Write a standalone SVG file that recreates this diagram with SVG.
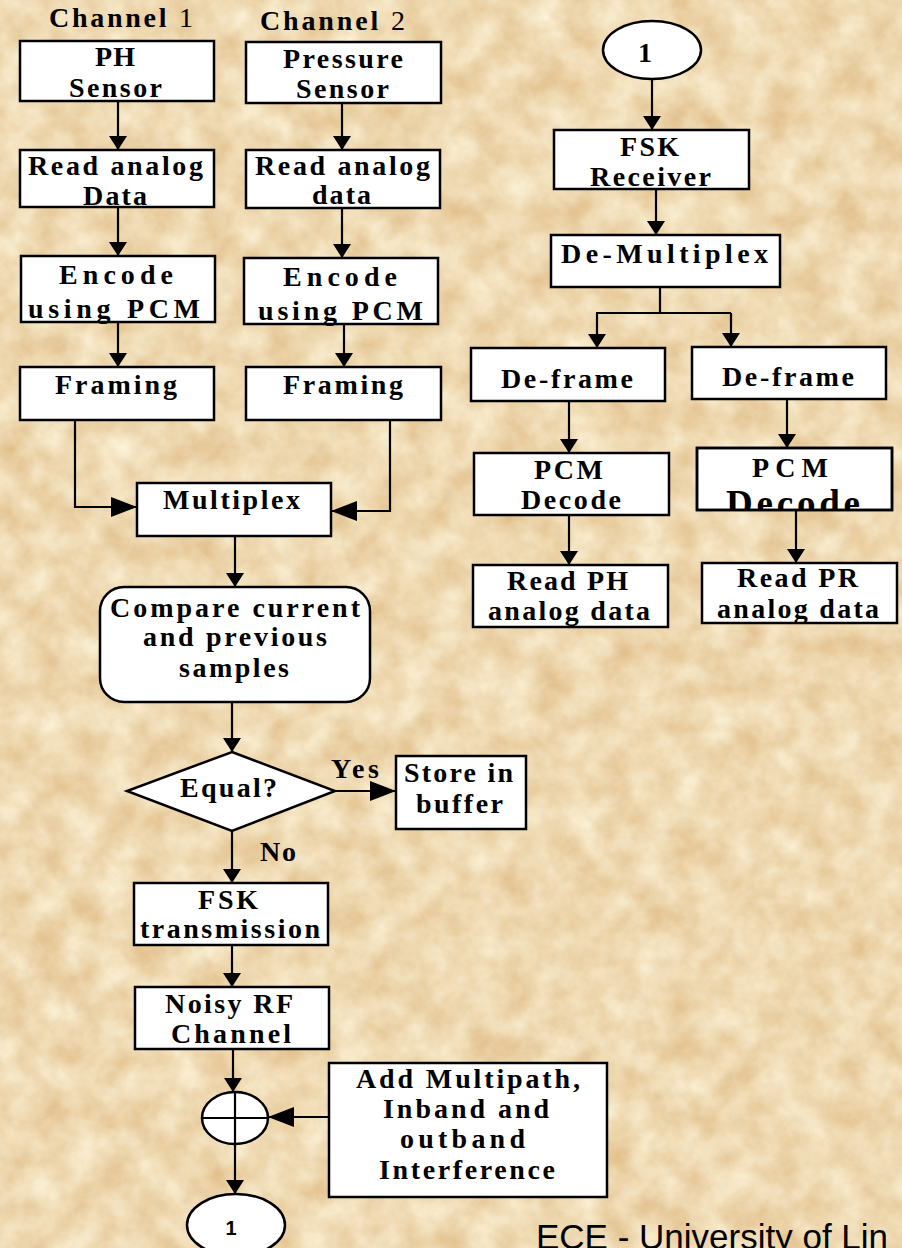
<svg xmlns="http://www.w3.org/2000/svg" width="902" height="1248" viewBox="0 0 902 1248">
<style>
.box{fill:#fff;stroke:#000;stroke-width:2.5}
.ln{fill:none;stroke:#000;stroke-width:2.2}
.t{font-family:"Liberation Serif","Times New Roman",serif;font-weight:bold;font-size:28px;fill:#000}
.n{font-weight:normal}
.big{font-size:37px}
.s{font-family:"Liberation Sans",Arial,sans-serif;fill:#000}
</style>
<defs>
<filter id="parch" x="0" y="0" width="100%" height="100%" color-interpolation-filters="sRGB">
<feTurbulence type="fractalNoise" baseFrequency="0.03" numOctaves="6" seed="7" result="n"/>
<feColorMatrix in="n" type="matrix" values="0.12 0 0 0 0.875  0.24 0 0 0 0.73  0.36 0 0 0 0.515  0 0 0 0 1"/>
</filter>
<marker id="a" viewBox="0 0 14 18" refX="14" refY="9" markerWidth="14" markerHeight="18" markerUnits="userSpaceOnUse" orient="auto"><path d="M0,0L14,9L0,18z" fill="#000"/></marker>
<marker id="aL" viewBox="0 0 26 20" refX="26" refY="10" markerWidth="26" markerHeight="20" markerUnits="userSpaceOnUse" orient="auto"><path d="M0,0L26,10L0,20z" fill="#000"/></marker>
<clipPath id="cp"><rect x="697" y="448" width="195" height="62"/></clipPath>
</defs>
<rect x="0" y="0" width="902" height="1248" fill="#ead6ad" filter="url(#parch)"/>

<g id="connectors">
<path class="ln" marker-end="url(#a)" d="M118,101V150"/>
<path class="ln" marker-end="url(#a)" d="M118,207V256"/>
<path class="ln" marker-end="url(#a)" d="M118,322V367"/>
<path class="ln" marker-end="url(#a)" d="M342,103V150"/>
<path class="ln" marker-end="url(#a)" d="M342,208V258"/>
<path class="ln" marker-end="url(#a)" d="M344,324V367"/>
<path class="ln" marker-end="url(#aL)" d="M75,420V507H137"/>
<path class="ln" marker-end="url(#aL)" d="M390,420V511H331"/>
<path class="ln" marker-end="url(#a)" d="M235,536V587"/>
<path class="ln" marker-end="url(#a)" d="M232,702V752"/>
<path class="ln" marker-end="url(#aL)" d="M335,791H396"/>
<path class="ln" marker-end="url(#a)" d="M232,831V883"/>
<path class="ln" marker-end="url(#a)" d="M232,945V987"/>
<path class="ln" marker-end="url(#a)" d="M233,1049V1092"/>
<path class="ln" marker-end="url(#aL)" d="M329,1117H268"/>
<path class="ln" marker-end="url(#a)" d="M235,1144V1194"/>
<path class="ln" marker-end="url(#a)" d="M652,79V130"/>
<path class="ln" marker-end="url(#a)" d="M656,189V235"/>
<path class="ln" d="M660,287V313M596,313H731"/>
<path class="ln" marker-end="url(#a)" d="M597,313V348"/>
<path class="ln" marker-end="url(#a)" d="M731,313V347"/>
<path class="ln" marker-end="url(#a)" d="M569,401V453"/>
<path class="ln" marker-end="url(#a)" d="M787,399V448"/>
<path class="ln" marker-end="url(#a)" d="M569,515V565"/>
<path class="ln" marker-end="url(#a)" d="M796,510V563"/>
</g>

<g id="labels">
<text class="t" x="49" y="27" textLength="144" lengthAdjust="spacing">Channel <tspan class="n">1</tspan></text>
<text class="t" x="260" y="30" textLength="145" lengthAdjust="spacing">Channel <tspan class="n">2</tspan></text>
<text class="t" x="331" y="778" textLength="48" lengthAdjust="spacing">Yes</text>
<text class="t" x="260" y="861" textLength="36" lengthAdjust="spacing">No</text>
<text class="s" x="536" y="1249" font-size="35">ECE - University of Lin</text>
</g>

<g id="ph-sensor"><rect class="box" x="20" y="41" width="194" height="60"/>
<text class="t" x="95" y="66" textLength="40" lengthAdjust="spacing">PH</text>
<text class="t" x="69" y="97" textLength="93" lengthAdjust="spacing">Sensor</text></g>

<g id="pressure-sensor"><rect class="box" x="246" y="42" width="195" height="61"/>
<text class="t" x="283" y="68" textLength="120" lengthAdjust="spacing">Pressure</text>
<text class="t" x="296" y="98" textLength="93" lengthAdjust="spacing">Sensor</text></g>

<g id="read1"><rect class="box" x="20" y="150" width="194" height="57"/>
<text class="t" x="28" y="175" textLength="175" lengthAdjust="spacing">Read analog</text>
<text class="t" x="83" y="205" textLength="64" lengthAdjust="spacing">Data</text></g>

<g id="read2"><rect class="box" x="246" y="150" width="194" height="58"/>
<text class="t" x="255" y="175" textLength="175" lengthAdjust="spacing">Read analog</text>
<text class="t" x="312" y="204" textLength="59" lengthAdjust="spacing">data</text></g>

<g id="encode1"><rect class="box" x="21" y="256" width="194" height="66"/>
<text class="t" x="59" y="284" textLength="114" lengthAdjust="spacing">Encode</text>
<text class="t" x="28" y="318" textLength="172" lengthAdjust="spacing">using PCM</text></g>

<g id="encode2"><rect class="box" x="244" y="258" width="194" height="66"/>
<text class="t" x="283" y="286" textLength="114" lengthAdjust="spacing">Encode</text>
<text class="t" x="258" y="320" textLength="165" lengthAdjust="spacing">using PCM</text></g>

<g id="framing1"><rect class="box" x="20" y="367" width="194" height="53"/>
<text class="t" x="55" y="394" textLength="122" lengthAdjust="spacing">Framing</text></g>

<g id="framing2"><rect class="box" x="246" y="367" width="195" height="53"/>
<text class="t" x="283" y="394" textLength="120" lengthAdjust="spacing">Framing</text></g>

<g id="multiplex"><rect class="box" x="137" y="483" width="194" height="53"/>
<text class="t" x="163" y="509" textLength="137" lengthAdjust="spacing">Multiplex</text></g>

<g id="compare"><rect class="box" x="100" y="587" width="270" height="115" rx="24"/>
<text class="t" x="110" y="617" textLength="250" lengthAdjust="spacing">Compare current</text>
<text class="t" x="143" y="646" textLength="184" lengthAdjust="spacing">and previous</text>
<text class="t" x="179" y="677" textLength="110" lengthAdjust="spacing">samples</text></g>

<g id="equal"><polygon class="box" points="232,752 335,791 232,831 127,791"/>
<text class="t" x="180" y="797" textLength="97" lengthAdjust="spacing">Equal?</text></g>

<g id="store"><rect class="box" x="396" y="756" width="130" height="73"/>
<text class="t" x="404" y="782" textLength="109" lengthAdjust="spacing">Store in</text>
<text class="t" x="416" y="813" textLength="87" lengthAdjust="spacing">buffer</text></g>

<g id="fsk-tx"><rect class="box" x="134" y="883" width="194" height="62"/>
<text class="t" x="198" y="909" textLength="60" lengthAdjust="spacing">FSK</text>
<text class="t" x="140" y="938" textLength="180" lengthAdjust="spacing">transmission</text></g>

<g id="noisy"><rect class="box" x="135" y="987" width="194" height="62"/>
<text class="t" x="165" y="1013" textLength="128" lengthAdjust="spacing">Noisy RF</text>
<text class="t" x="171" y="1043" textLength="120" lengthAdjust="spacing">Channel</text></g>

<g id="sum"><ellipse class="box" cx="235" cy="1118" rx="33" ry="26"/>
<path class="ln" d="M235,1092V1144M202,1118H268"/></g>

<g id="interference"><rect class="box" x="329" y="1063" width="278" height="134"/>
<text class="t" x="356" y="1088" textLength="224" lengthAdjust="spacing">Add Multipath,</text>
<text class="t" x="383" y="1118" textLength="166" lengthAdjust="spacing">Inband and</text>
<text class="t" x="400" y="1148" textLength="125" lengthAdjust="spacing">outband</text>
<text class="t" x="379" y="1179" textLength="176" lengthAdjust="spacing">Interference</text></g>

<g id="conn-out"><ellipse class="box" cx="236" cy="1225" rx="49" ry="31"/>
<text class="s" x="231" y="1235" font-size="20" font-weight="bold" text-anchor="middle">1</text></g>

<g id="conn-in"><ellipse class="box" cx="652" cy="50" rx="49" ry="29"/>
<text class="t" x="645" y="62" text-anchor="middle">1</text></g>

<g id="fsk-rx"><rect class="box" x="554" y="130" width="195" height="59"/>
<text class="t" x="620" y="156" textLength="59" lengthAdjust="spacing">FSK</text>
<text class="t" x="590" y="186" textLength="121" lengthAdjust="spacing">Receiver</text></g>

<g id="demux"><rect class="box" x="551" y="235" width="229" height="52"/>
<text class="t" x="561" y="263" textLength="207" lengthAdjust="spacing">De-Multiplex</text></g>

<g id="deframe1"><rect class="box" x="471" y="348" width="194" height="53"/>
<text class="t" x="501" y="388" textLength="132" lengthAdjust="spacing">De-frame</text></g>

<g id="deframe2"><rect class="box" x="692" y="347" width="194" height="52"/>
<text class="t" x="722" y="386" textLength="132" lengthAdjust="spacing">De-frame</text></g>

<g id="pcm1"><rect class="box" x="474" y="453" width="195" height="62"/>
<text class="t" x="534" y="479" textLength="69" lengthAdjust="spacing">PCM</text>
<text class="t" x="521" y="509" textLength="100" lengthAdjust="spacing">Decode</text></g>

<g id="pcm2"><rect class="box" x="697" y="448" width="195" height="62"/>
<text class="t" x="752" y="477" textLength="76" lengthAdjust="spacing">PCM</text>
<text class="t big" x="726" y="516" textLength="134" lengthAdjust="spacing" clip-path="url(#cp)">Decode</text>
<rect x="697" y="448" width="195" height="62" fill="none" stroke="#000" stroke-width="2.5"/></g>

<g id="readph"><rect class="box" x="473" y="565" width="195" height="62"/>
<text class="t" x="507" y="590" textLength="121" lengthAdjust="spacing">Read PH</text>
<text class="t" x="488" y="620" textLength="162" lengthAdjust="spacing">analog data</text></g>

<g id="readpr"><rect class="box" x="702" y="563" width="195" height="60"/>
<text class="t" x="737" y="587" textLength="121" lengthAdjust="spacing">Read PR</text>
<text class="t" x="717" y="618" textLength="162" lengthAdjust="spacing">analog data</text></g>
</svg>
